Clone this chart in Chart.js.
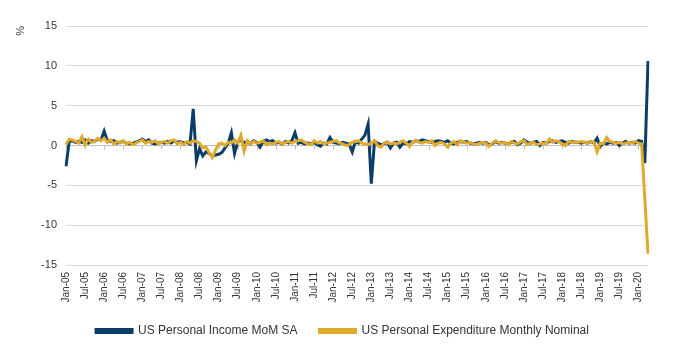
<!DOCTYPE html>
<html>
<head>
<meta charset="utf-8">
<script src="https://cdn.jsdelivr.net/npm/chart.js@4"></script>
<style>
  html, body { margin: 0; padding: 0; background: #fff; }
  #wrap { width: 700px; height: 347px; }
</style>
</head>
<body>
<div id="wrap"><canvas id="myChart" width="700" height="347"></canvas></div>
<script>
'use strict';

// Monthly % change, Jan-05 .. Apr-20 (one row per year)

let incomeMoM = [
  -2.6, 0.5, 0.6, 0.4, 0.5, 0.4, 0.7, 0.3, 0.6, 0.5, 0.8, 0.7,
  1.8, 0.6, 0.5, 0.6, 0.3, 0.4, 0.5, 0.3, 0.2, 0.3, 0.4, 0.6,
  0.8, 0.5, 0.7, 0.3, 0.2, 0.3, 0.4, 0.3, 0.5, 0.3, 0.6, 0.4,
  0.5, 0.3, 0.4, 0.2, 4.6, -1.9, -0.4, -1.3, -0.8, -1.0, -1.3, -1.2,
  -1.1, -0.9, -0.3, 0.3, 1.6, -1.0, 0.4, 0.7, 0.3, 0.5, 0.2, 0.6,
  0.4, -0.2, 0.5, 0.7, 0.5, 0.6, 0.3, 0.4, 0.2, 0.5, 0.3, 0.6,
  1.6, 0.3, 0.4, 0.2, 0.3, 0.2, 0.4, 0.1, -0.1, 0.3, 0.2, 1.0,
  0.4, 0.3, 0.2, 0.4, 0.3, 0.2, -0.8, 0.5, 0.3, 0.8, 1.3, 2.7,
  -4.8, 0.5, 0.3, 0.1, 0.2, 0.4, -0.3, 0.3, 0.4, -0.2, 0.3, 0.2,
  0.5, 0.4, 0.6, 0.5, 0.7, 0.6, 0.5, 0.4, 0.5, 0.6, 0.5, 0.4,
  0.6, 0.3, 0.2, 0.4, 0.5, 0.4, 0.5, 0.3, 0.2, 0.3, 0.4, 0.3,
  0.4, 0.1, 0.2, 0.5, 0.3, 0.4, 0.3, 0.2, 0.4, 0.5, 0.1, 0.3,
  0.7, 0.4, 0.3, 0.4, 0.5, 0.0, 0.4, 0.3, 0.5, 0.6, 0.4, 0.5,
  0.6, 0.4, 0.3, 0.5, 0.4, 0.4, 0.3, 0.4, 0.3, 0.5, 0.3, 0.9,
  -0.1, 0.3, 0.2, 0.4, 0.3, 0.4, 0.0, 0.3, 0.5, 0.3, 0.4, 0.3,
  0.6, 0.5, -2.2, 10.6
];

let spendingMoM = [
  0.1, 0.8, 0.7, 0.5, 0.3, 1.1, 0.1, 0.8, 0.4, 0.5, 0.9, 0.6,
  0.9, 0.4, 0.7, 0.2, 0.5, 0.3, 0.6, 0.2, 0.4, 0.1, 0.3, 0.5,
  0.7, 0.3, 0.5, 0.4, 0.6, 0.2, 0.4, 0.5, 0.3, 0.6, 0.7, 0.2,
  0.4, 0.1, 0.5, 0.3, 0.6, 0.5, 0.3, -0.3, -0.2, -0.9, -1.5, -0.6,
  0.2, 0.3, 0.0, 0.4, 0.3, 0.7, 0.3, 1.3, -0.7, 0.6, 0.2, 0.5,
  0.3, 0.4, 0.6, 0.1, 0.3, 0.2, 0.4, 0.5, 0.2, 0.4, 0.5, 0.3,
  0.5, 0.6, 0.7, 0.4, 0.2, 0.1, 0.6, 0.3, 0.5, 0.2, 0.3, 0.4,
  0.5, 0.6, 0.3, 0.2, 0.0, 0.1, 0.4, 0.5, 0.6, 0.3, 0.2, 0.1,
  0.3, 0.6, 0.0, -0.2, 0.3, 0.4, 0.2, 0.3, 0.2, 0.4, 0.6, 0.3,
  -0.1, 0.4, 0.6, 0.4, 0.3, 0.5, 0.4, 0.6, 0.0, 0.3, 0.4, 0.2,
  -0.2, 0.3, 0.5, 0.1, 0.6, 0.4, 0.3, 0.4, 0.2, 0.1, 0.3, 0.4,
  0.3, -0.1, 0.3, 0.6, 0.4, 0.3, 0.4, 0.1, 0.5, 0.3, 0.2, 0.5,
  0.6, 0.1, 0.3, 0.4, 0.1, 0.2, 0.3, 0.2, 0.8, 0.4, 0.6, 0.5,
  0.2, 0.0, 0.5, 0.4, 0.4, 0.4, 0.5, 0.4, 0.3, 0.5, 0.4, -0.8,
  0.3, 0.2, 1.0, 0.5, 0.4, 0.3, 0.4, 0.2, 0.3, 0.4, 0.3, 0.5,
  0.3, 0.2, -6.7, -13.6
];

let monthNames = ['Jan', 'Feb', 'Mar', 'Apr', 'May', 'Jun', 'Jul', 'Aug', 'Sep', 'Oct', 'Nov', 'Dec'];
let firstYear = 2005;
let yTicks = [-15, -10, -5, 0, 5, 10, 15];

// month labels like "Jan-05"
let monthLabels = [];
for (let i = 0; i < incomeMoM.length; i++) {
  let yy = String((firstYear + Math.floor(i / 12)) % 100).padStart(2, '0');
  monthLabels.push(`${monthNames[i % 12]}-${yy}`);
}

// small tick marks hanging off the zero line every six months
const zeroTicks = {
  id: 'zeroTicks',
  beforeDatasetsDraw(chart) {
    let ctx = chart.ctx;
    let x = chart.scales.x;
    let y0 = chart.scales.y.getPixelForValue(0);
    ctx.save();
    ctx.strokeStyle = '#bfbfbf';
    ctx.lineWidth = 1;
    for (let i = 0; i < monthLabels.length; i += 6) {
      let px = Math.round(x.getPixelForValue(i)) + 0.5;
      ctx.beginPath();
      ctx.moveTo(px, y0);
      ctx.lineTo(px, y0 + 4);
      ctx.stroke();
    }
    ctx.restore();
  }
};

const fontFamily = 'Liberation Sans, Arial, sans-serif';

const ctx = document.getElementById('myChart');
const config = {
  type: 'line',
  data: {
    labels: monthLabels,
    datasets: [
      {
        label: 'US Personal Income MoM SA',
        data: incomeMoM,
        borderColor: '#0b3d6b',
        backgroundColor: '#0b3d6b',
        borderWidth: 3,
        pointRadius: 0,
        tension: 0,
        order: 1
      },
      {
        label: 'US Personal Expenditure Monthly Nominal',
        data: spendingMoM,
        borderColor: '#dfa92c',
        backgroundColor: '#dfa92c',
        borderWidth: 3,
        pointRadius: 0,
        tension: 0,
        order: 0
      }
    ]
  },
  options: {
    responsive: false,
    animation: false,
    layout: {
      padding: { top: 26, right: 15, left: 0, bottom: 0 }
    },
    plugins: {
      tooltip: { enabled: false },
      legend: {
        position: 'bottom',
        labels: {
          boxWidth: 36,
          boxHeight: 3,
          padding: 22,
          color: '#333',
          font: { family: fontFamily, size: 12 },
          sort: (a, b) => a.datasetIndex - b.datasetIndex
        }
      }
    },
    scales: {
      x: {
        grid: { display: false, drawTicks: false },
        border: { display: false },
        afterFit: (scale) => { scale.height = 38; },
        ticks: {
          autoSkip: false,
          minRotation: 90,
          maxRotation: 90,
          padding: 7,
          color: '#333',
          font: { family: fontFamily, size: 10 },
          callback: function (value, index) {
            return index % 6 === 0 ? this.getLabelForValue(value) : null;
          }
        }
      },
      y: {
        min: yTicks[0],
        max: yTicks[yTicks.length - 1],
        afterFit: (scale) => { scale.width = 66; },
        afterBuildTicks: (scale) => { scale.ticks = yTicks.map(v => ({ value: v })); },
        grid: {
          drawTicks: false,
          color: (c) => c.tick && c.tick.value === 0 ? '#bfbfbf' : '#d9d9d9'
        },
        border: { display: false },
        ticks: {
          padding: 9,
          color: '#333',
          font: { family: fontFamily, size: 11 }
        },
        title: {
          display: true,
          text: '%',
          align: 'end',
          padding: { top: 14, bottom: 0 },
          color: '#333',
          font: { family: fontFamily, size: 11 }
        }
      },
      // empty right-hand axis keeps the plot clear of the right edge
      yRight: {
        position: 'right',
        min: yTicks[0],
        max: yTicks[yTicks.length - 1],
        afterFit: (scale) => { scale.width = 37; },
        grid: { display: false, drawTicks: false },
        border: { display: false },
        ticks: { display: false }
      }
    }
  },
  plugins: [zeroTicks]
};
new Chart(ctx, config);
</script>
</body>
</html>
